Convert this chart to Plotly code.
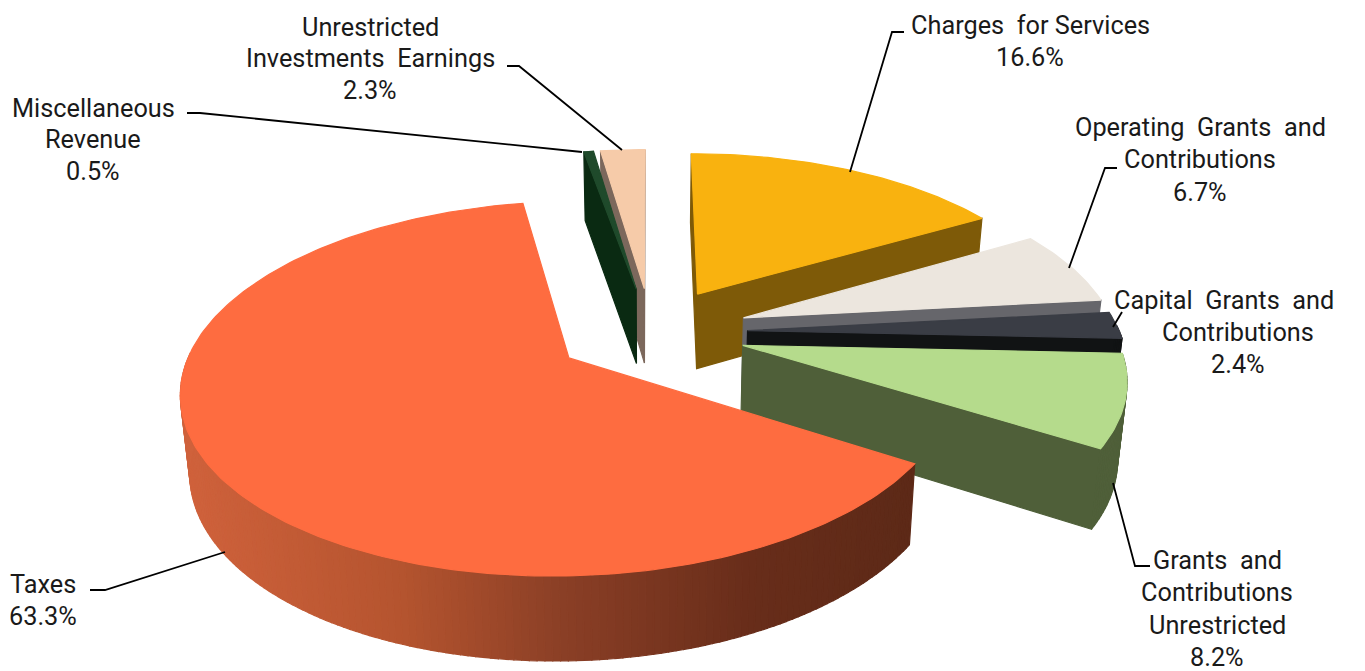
import numpy as np
import plotly.graph_objects as go

# Revenue shares, clockwise from twelve o'clock
categories = ["Charges for Services", "Operating Grants and Contributions",
              "Capital Grants and Contributions", "Grants and Contributions Unrestricted",
              "Taxes", "Miscellaneous Revenue", "Unrestricted Investments Earnings"]
values = [16.6, 6.7, 2.4, 8.2, 63.3, 0.5, 2.3]
pull = [0.26, 0.265, 0.26, 0.255, 0.26, 0.26, 0.26]
top_colors = ["#f9b20f", "#ece6de", "#3a3d45", "#b5db8c", "#fe6c40", "#1f4a2b", "#f6cba9"]
side_colors = ["#7e5a08", "#66666b", "#111314", "#4f5f39", "#8f3f24", "#0a2a12", "#7c685c"]
draw_order = [6, 5, 0, 1, 2, 3, 4]

# Shading of the large slice's wall, left to right across the page
shade_x = [181, 400, 560, 750, 918]
shade_colors = ["#d0623c", "#b5542f", "#8b3f26", "#682d1a", "#5c2917"]

# Projection of the pie into the page
center_x, center_y = 651, 332
scale_x, scale_y = 372, 174
thickness = 76
perspective = 0.16
base_shrink = 0.02


def project(x, y, z):
    x, y, z = (np.asarray(v, float) for v in (x, y, z))
    w = 1 + perspective * y
    return (center_x + scale_x * x / w * (1 + base_shrink * z),
            center_y - scale_y * y / w - thickness * z / w ** 0.55)


def shade(x):
    rgb = [[int(c[i:i + 2], 16) for i in (1, 3, 5)] for c in shade_colors]
    return "rgb(%d,%d,%d)" % tuple(round(np.interp(x, shade_x, [c[j] for c in rgb])) for j in range(3))


def area(px, py):
    return 0.5 * np.sum(px * np.roll(py, -1) - np.roll(px, -1) * py)


fig = go.Figure()


def polygon(px, py, color):
    fig.add_trace(go.Scatter(x=np.r_[px, px[0]], y=np.r_[py, py[0]], mode="lines", fill="toself",
                             fillcolor=color, line=dict(color=color, width=1.2), hoverinfo="skip",
                             showlegend=False))


edges = np.r_[0, np.cumsum(values)] / sum(values) * 2 * np.pi

for i in draw_order:
    a0, a1 = edges[i], edges[i + 1]
    mid = (a0 + a1) / 2
    ox, oy = pull[i] * np.sin(mid), pull[i] * np.cos(mid)
    theta = np.linspace(a0, a1, max(3, int(np.degrees(a1 - a0)) + 1))
    rim_x, rim_y = ox + np.sin(theta), oy + np.cos(theta)

    # radial cut faces, kept only where they turn toward the viewer
    for a, sign in ((a0, -1), (a1, 1)):
        fx = np.array([ox, ox + np.sin(a), ox + np.sin(a), ox])
        fy = np.array([oy, oy + np.cos(a), oy + np.cos(a), oy])
        fz = np.array([0, 0, -1, -1])
        sx, sy = project(fx, fy, fz)
        if sign * area(sx, sy) > 0:
            polygon(sx, sy, side_colors[i])

    # outer wall, built from short segments so the large slice can shade across x
    tx, ty = project(rim_x, rim_y, 0 * theta)
    bx, by = project(rim_x, rim_y, 0 * theta - 1)
    for k in range(len(theta) - 1):
        if rim_y[k] - oy > 0.02 and rim_y[k + 1] - oy > 0.02:
            continue
        qx = np.array([tx[k], tx[k + 1], bx[k + 1], bx[k]])
        qy = np.array([ty[k], ty[k + 1], by[k + 1], by[k]])
        color = shade(qx.mean()) if categories[i] == "Taxes" else side_colors[i]
        polygon(qx, qy, color)

    # top face
    ax, ay = project(ox, oy, 0)
    polygon(np.r_[ax, tx], np.r_[ay, ty], top_colors[i])

# Labels, one entry per text line
label_lines = [
    ("Charges\u00a0 for Services", 1030, 25), ("16.6%", 1030, 57),
    ("Operating\u00a0 Grants\u00a0 and", 1200, 127), ("Contributions", 1200, 159), ("6.7%", 1200, 192),
    ("Capital\u00a0 Grants\u00a0 and", 1224, 300), ("Contributions", 1238, 332), ("2.4%", 1238, 364),
    ("Grants\u00a0 and", 1217, 560), ("Contributions", 1217, 592), ("Unrestricted", 1217, 625), ("8.2%", 1217, 657),
    ("Taxes", 43, 584), ("63.3%", 43, 616),
    ("Miscellaneous", 93, 108), ("Revenue", 93, 139), ("0.5%", 93, 171),
    ("Unrestricted", 370, 27), ("Investments\u00a0 Earnings", 370, 58), ("2.3%", 370, 90),
]
leader_paths = [
    "M507,66 L519,66 L622,150", "M187,113 L200,113 L582,152", "M904,32 L892,32 L850,172",
    "M1117,168 L1105,168 L1069,268", "M1122,312 L1113,327", "M1150,566 L1135,566 L1113,483",
    "M90,590 L105,590 L225,552",
]

fig.update_layout(
    width=1365, height=671, margin=dict(l=0, r=0, t=0, b=0),
    paper_bgcolor="white", plot_bgcolor="white", showlegend=False,
    xaxis=dict(range=[0, 1365], visible=False, fixedrange=True),
    yaxis=dict(range=[671, 0], visible=False, fixedrange=True),
    annotations=[dict(text=t, x=x, y=y, xref="x", yref="y", showarrow=False, xanchor="center", yanchor="middle",
                      font=dict(family="Roboto", size=25.3, color="#1a1a1a")) for t, x, y in label_lines],
    shapes=[dict(type="path", path=p, xref="x", yref="y", line=dict(color="black", width=1.8)) for p in leader_paths],
)
fig.write_html("out.html", config={"displayModeBar": False})
